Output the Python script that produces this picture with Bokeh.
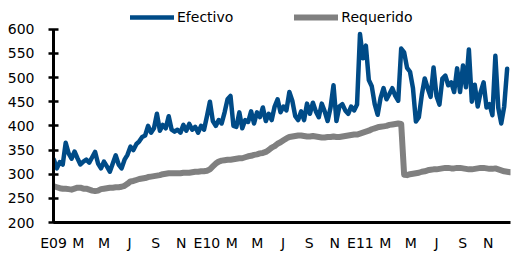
import pandas as pd
from bokeh.plotting import figure
from bokeh.models import Range1d, FixedTicker, Legend, LegendItem, ColumnDataSource
from bokeh.embed import file_html
from bokeh.resources import INLINE

# Weekly observations starting 2009-01-02
start_date = "2009-01-02"
origin = pd.Timestamp("2009-01-01")

efectivo = [
    330, 312, 325, 320, 365, 343, 332, 347, 333, 320,
    326, 330, 324, 335, 346, 322, 312, 326, 316, 305,
    322, 339, 320, 312, 330, 340, 357, 350, 362, 368,
    377, 380, 400, 386, 395, 425, 390, 402, 395, 420,
    392, 388, 392, 386, 402, 390, 404, 392, 398, 386,
    400, 392, 420, 450, 410, 400, 412, 405, 428, 455,
    462, 400, 398, 428, 395, 412, 408, 430, 405, 428,
    418, 438, 410, 425, 412, 440, 455, 428, 440, 432,
    470, 452, 420, 412, 430, 412, 446, 425, 448, 430,
    418, 446, 430, 410, 438, 484, 410, 440, 445, 432,
    425, 440, 432, 444, 590, 540, 566, 495, 482, 445,
    423, 458, 478, 455, 466, 478, 462, 452, 560, 552,
    520, 512, 478, 409, 418, 464, 498, 478, 460, 521,
    462, 444, 498, 504, 484, 490, 470, 519, 470, 525,
    480, 558, 450, 485, 440, 470, 490, 438, 445, 422,
    545, 437, 405, 440, 518,
]

requerido = [
    275, 273, 271, 270, 270, 269, 268, 270, 272, 272,
    270, 270, 268, 266, 265, 266, 269, 270, 271, 272,
    272, 273, 273, 274, 276, 280, 285, 286, 288, 290,
    291, 292, 294, 295, 296, 297, 298, 300, 301, 302,
    302, 302, 302, 302, 303, 303, 303, 304, 305, 305,
    306, 306, 307, 310, 316, 322, 326, 328, 329, 330,
    330, 331, 332, 333, 333, 335, 337, 338, 340, 341,
    343, 344, 346, 350, 355, 358, 363, 366, 370, 374,
    377, 378, 379, 380, 380, 379, 378, 378, 379, 378,
    377, 376, 376, 377, 377, 378, 377, 377, 378, 379,
    380, 381, 382, 382, 384, 386, 388, 390, 393, 395,
    397, 398, 399, 400, 402, 403, 404, 405, 404, 299,
    298, 300, 301, 302, 303, 305, 306, 308, 309, 310,
    310, 311, 312, 313, 313, 312, 312, 313, 313, 312,
    311, 310, 310, 311, 312, 313, 313, 312, 311, 311,
    312, 310, 308, 306, 305, 304, 305,
]

tick_dates = [
    "2009-01-01", "2009-03-01", "2009-05-01", "2009-07-01", "2009-09-01", "2009-11-01",
    "2010-01-01", "2010-03-01", "2010-05-01", "2010-07-01", "2010-09-01", "2010-11-01",
    "2011-01-01", "2011-03-01", "2011-05-01", "2011-07-01", "2011-09-01", "2011-11-01",
]
tick_labels = [
    "E09", "M", "M", "J", "S", "N",
    "E10", "M", "M", "J", "S", "N",
    "E11", "M", "M", "J", "S", "N",
]
y_ticks = [200, 250, 300, 350, 400, 450, 500, 550, 600]

BLUE = "#004B87"
GRAY = "#808080"
FONT = "DejaVu Sans"


def day_numbers(n):
    dates = pd.date_range(start_date, periods=n, freq="7D")
    return [float((d - origin).days) for d in dates]


src_e = ColumnDataSource(dict(x=day_numbers(len(efectivo)), y=efectivo))
src_r = ColumnDataSource(dict(x=day_numbers(len(requerido)), y=requerido))

end_day = 1087.0

# frame extends above 600 to leave room for the legend; the y axis is bounded to 200-600
p = figure(width=514, height=253,
           output_backend="svg", toolbar_location=None,
           x_range=Range1d(0, end_day),
           y_range=Range1d(200, 642.9),
           min_border_left=53, min_border_right=4, min_border_top=8, min_border_bottom=28)

r_req = p.line("x", "y", source=src_r, line_color=GRAY, line_width=6,
               line_join="round", line_cap="round")
r_ef = p.line("x", "y", source=src_e, line_color=BLUE, line_width=4.5,
              line_join="round", line_cap="round")

p.xgrid.visible = False
p.ygrid.visible = False
p.outline_line_color = None

tick_days = [int((pd.Timestamp(d) - origin).days) for d in tick_dates]
p.xaxis.ticker = FixedTicker(ticks=tick_days)
p.xaxis.major_label_overrides = {d: lab for d, lab in zip(tick_days, tick_labels)}
p.xaxis.major_tick_in = 0
p.xaxis.major_tick_out = 0
p.xaxis.minor_tick_line_color = None
p.xaxis.axis_line_width = 3
p.xaxis.major_label_standoff = 12

p.yaxis.ticker = FixedTicker(ticks=y_ticks)
p.yaxis.bounds = (200, 600)
p.yaxis.major_tick_in = 5
p.yaxis.major_tick_out = 5
p.yaxis.major_tick_line_width = 2.5
p.yaxis.minor_tick_line_color = None
p.yaxis.axis_line_width = 3
p.yaxis.major_label_standoff = 14

for ax in (p.xaxis, p.yaxis):
    ax.axis_line_color = "black"
    ax.major_tick_line_color = "black"
    ax.major_label_text_font = FONT
    ax.major_label_text_font_size = "14px"
    ax.major_label_text_color = "black"

legend = Legend(items=[LegendItem(label="Efectivo", renderers=[r_ef]),
                       LegendItem(label="Requerido", renderers=[r_req])],
                orientation="horizontal", location=(77, 197),
                border_line_color=None, background_fill_alpha=0,
                label_text_font=FONT, label_text_font_size="14px",
                label_text_color="black",
                glyph_width=44, glyph_height=16, spacing=61, label_standoff=3,
                padding=0, margin=0)
p.add_layout(legend, "center")

open("out.html", "w").write(file_html(p, INLINE))
